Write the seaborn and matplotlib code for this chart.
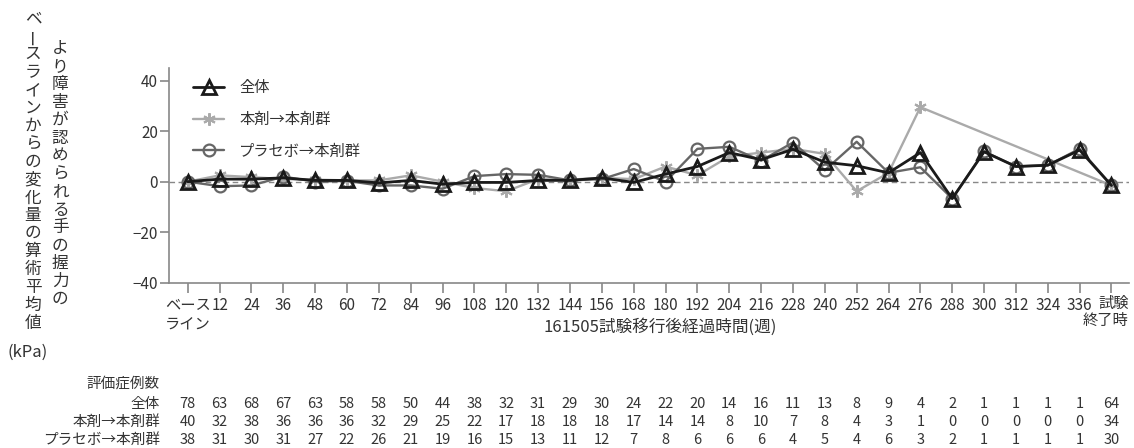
import numpy as np
import pandas as pd
import matplotlib
matplotlib.use("Agg")
import matplotlib.pyplot as plt
import matplotlib.transforms as mtransforms
import seaborn as sns

# Visit labels (weeks after transfer to study 161505)
weeks = ["ベース\nライン", "12", "24", "36", "48", "60", "72", "84", "96", "108",
         "120", "132", "144", "156", "168", "180", "192", "204", "216", "228",
         "240", "252", "264", "276", "288", "300", "312", "324", "336", "試験\n終了時"]

# Mean change from baseline in grip strength of the more affected hand (kPa)
overall = [0, 1.0, 1.0, 1.5, 0.5, 0.5, -0.5, 0.5, -1.0, -0.3,
           -0.3, 0.5, 0.5, 1.5, -0.3, 3.0, 6.0, 11.5, 8.7, 12.8,
           7.7, 6.3, 3.5, 11.5, -6.7, 11.8, 6.0, 6.5, 12.5, -1.5]
active = [0, 2.5, 1.8, 1.0, 0.8, 0.5, 0.5, 2.5, 0.0, -2.5,
          -3.8, 1.0, 0.8, 1.5, 1.0, 6.0, 2.5, 10.0, 11.5, 13.0,
          11.0, -3.8, 3.5, 29.5, np.nan, np.nan, np.nan, np.nan, np.nan, -1.5]
placebo = [0, -1.8, -1.5, 2.0, 0.0, 0.3, -1.5, -1.5, -2.8, 2.2,
           3.0, 2.7, 0.5, 1.0, 5.0, 0.0, 13.0, 13.8, 8.3, 15.5,
           4.5, 15.8, 3.5, 5.7, -6.7, 12.0, 6.0, 6.5, 13.0, -1.5]

# Number of evaluated cases per visit
n_overall = [78, 63, 68, 67, 63, 58, 58, 50, 44, 38, 32, 31, 29, 30, 24,
             22, 20, 14, 16, 11, 13, 8, 9, 4, 2, 1, 1, 1, 1, 64]
n_active = [40, 32, 38, 36, 36, 36, 32, 29, 25, 22, 17, 18, 18, 18, 17,
            14, 14, 8, 10, 7, 8, 4, 3, 1, 0, 0, 0, 0, 0, 34]
n_placebo = [38, 31, 30, 31, 27, 22, 26, 21, 19, 16, 15, 13, 11, 12, 7,
             8, 6, 6, 6, 4, 5, 4, 6, 3, 2, 1, 1, 1, 1, 30]

group_names = ["全体", "本剤→本剤群", "プラセボ→本剤群"]

sns.set_theme(style="ticks")
plt.rcParams["font.family"] = ["Noto Sans CJK JP", "DejaVu Sans"]
plt.rcParams["axes.unicode_minus"] = True

TXT = "#333333"
W, H = 1134, 448
fig = plt.figure(figsize=(W / 100, H / 100), dpi=100)
ax = fig.add_axes([169 / W, 1 - 282.7 / H, 960 / W, (282.7 - 68) / H])

df = pd.DataFrame({"pos": np.arange(len(weeks)), "overall": overall,
                   "active": active, "placebo": placebo})

ax.axhline(0, color="#888888", lw=1.0, ls=(0, (4, 2.5)), zorder=1)

# 本剤→本剤群: no cases between week 288 and 336, line joins 276 to end
sns.lineplot(data=df.dropna(subset=["active"]), x="pos", y="active", ax=ax,
             color="#aaaaaa", lw=1.7, marker=(6, 2, 0), markersize=9,
             mec="#aaaaaa", mew=1.5, zorder=2, label=group_names[1])
sns.lineplot(data=df, x="pos", y="placebo", ax=ax,
             color="#666666", lw=1.7, marker="o", markersize=8.5,
             mfc="none", mec="#666666", mew=1.6, zorder=3, label=group_names[2])
sns.lineplot(data=df, x="pos", y="overall", ax=ax,
             color="#1a1a1a", lw=2.0, marker="^", markersize=10,
             mfc="none", mec="#1a1a1a", mew=2.0, zorder=4, label=group_names[0])

ax.set_xlim(-0.59, 29.55)
ax.set_ylim(-40, 45)
ax.set_yticks([-40, -20, 0, 20, 40])
ax.set_xticks(df["pos"])
# The end-of-study label is set separately, flush right with the axis end
ax.set_xticklabels(weeks[:-1] + [""])
ax.set_xlabel("")
ax.set_ylabel("")

for side in ["top", "right"]:
    ax.spines[side].set_visible(False)
for side in ["left", "bottom"]:
    ax.spines[side].set_color("#888888")
    ax.spines[side].set_linewidth(1.2)
ax.tick_params(axis="both", colors="#888888", labelcolor=TXT, labelsize=11,
               width=1.2)
ax.tick_params(axis="y", length=6.5, pad=1.5)
ax.tick_params(axis="x", length=7, pad=3)

blend = mtransforms.blended_transform_factory(ax.transData, fig.transFigure)
shift = mtransforms.ScaledTranslation(0.17, 0, fig.dpi_scale_trans)
for line, ypx in zip(weeks[-1].split("\n"), [303, 320]):
    ax.text(df["pos"].iloc[-1], 1 - ypx / H, line, transform=blend + shift,
            ha="right", va="center", fontsize=11, color=TXT)

handles, labels = ax.get_legend_handles_labels()
order = [labels.index(n) for n in group_names]
ax.legend([handles[i] for i in order], [labels[i] for i in order],
          loc="upper left", bbox_to_anchor=(0.019, 0.975), borderaxespad=0,
          frameon=False, fontsize=11, handlelength=2.0, handletextpad=1.0,
          labelspacing=0.95, labelcolor=TXT)

# Axis titles
fig.text(660 / W, 1 - 327 / H, "161505試験移行後経過時間(週)",
         ha="center", va="center", fontsize=12, color=TXT)

def vertical(text, xc, ytop, step):
    for k, ch in enumerate(text):
        y = ytop + step * (k + 0.5)
        rot = 90 if ch == "ー" else 0
        fig.text(xc / W, 1 - y / H, ch, ha="center", va="center",
                 fontsize=12, color=TXT, rotation=rot)

vertical("より障害が認められる手の握力の", 60, 40, 17.9)
vertical("ベースラインからの変化量の算術平均値", 33, 10, 17.9)
fig.text(28 / W, 1 - 352 / H, "(kPa)", ha="center", va="center",
         fontsize=12, color=TXT)

# Case-count table under the axis
fig.text(160 / W, 1 - 384 / H, "評価症例数", ha="right", va="center",
         fontsize=10.5, color=TXT)
rows = [(group_names[0], n_overall, 404), (group_names[1], n_active, 422),
        (group_names[2], n_placebo, 440)]
for name, counts, ypx in rows:
    fig.text(160 / W, 1 - ypx / H, name, ha="right", va="center",
             fontsize=10.5, color=TXT)
    for p, c in zip(df["pos"], counts):
        ax.text(p, 1 - ypx / H, str(c), transform=blend, ha="center",
                va="center", fontsize=10.5, color=TXT)

fig.savefig("out.png", dpi=100)
